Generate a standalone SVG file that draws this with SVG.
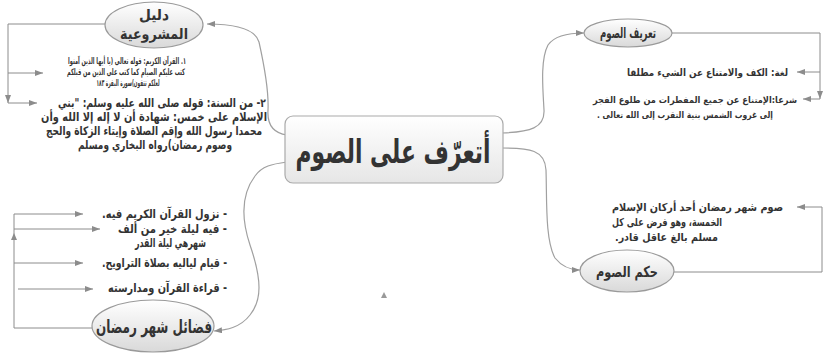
<svg xmlns="http://www.w3.org/2000/svg" width="824" height="362" viewBox="0 0 824 362">
<style>
.ar{font-family:'DejaVu Sans',sans-serif;font-weight:bold;fill:#333;direction:rtl;unicode-bidi:embed}
.m{text-anchor:middle}
.el{fill:url(#eg);stroke:#9a9a9a;stroke-width:1.2}
.cv{fill:none;stroke:#a0a0a0;stroke-width:1.2}
.cn{fill:none;stroke:#8c8c8c;stroke-width:1}
</style>
<defs>
<linearGradient id="eg" x1="0" y1="0" x2="0" y2="1">
<stop offset="0" stop-color="#ffffff"/><stop offset="1" stop-color="#d9d9d9"/>
</linearGradient>
<linearGradient id="bg" x1="0" y1="0" x2="0" y2="1">
<stop offset="0" stop-color="#ffffff"/><stop offset="1" stop-color="#e6e6e6"/>
</linearGradient>
<marker id="a" viewBox="0 0 8 6" refX="8" refY="3" markerWidth="8" markerHeight="6" markerUnits="userSpaceOnUse" orient="auto">
<path d="M0,0 L8,3 L0,6 z" fill="#8c8c8c"/>
</marker>
</defs>
<g id="connectors">
<path class="cv" d="M287,135 C273,133 267,125 268,110 C269,90 263,60 259,42 C255,28 232,24 207,24" marker-end="url(#a)"/>
<path class="cv" d="M287,162 C272,164 262,166 255,176 C243,192 240,215 250,245 C262,280 262,300 250,315 C240,328 226,330 214,331" marker-end="url(#a)"/>
<path class="cv" d="M502,133 C530,132 545,128 544,110 C543,90 540,60 548,45 C555,35 570,33 584,33" marker-end="url(#a)"/>
<path class="cv" d="M502,148 C530,148 545,150 546,170 C547,200 545,240 555,258 C563,268 572,270 580,270" marker-end="url(#a)"/>
<path class="cn" d="M105,24 H8 V103" marker-end="url(#a)"/>
<path class="cn" d="M8,73 H43" marker-end="url(#a)"/>
<path class="cn" d="M8,103 H37" marker-end="url(#a)"/>
<path class="cn" d="M92,328 H14 V214 H83" marker-end="url(#a)"/>
<path d="M14,233 L17,240 L11,240 z" fill="#8c8c8c"/>
<path class="cn" d="M14,229 H100" marker-end="url(#a)"/>
<path class="cn" d="M14,263 H83" marker-end="url(#a)"/>
<path class="cn" d="M18,289 H93" marker-end="url(#a)"/>
<path class="cn" d="M672,33 H820 V99" marker-end="url(#a)"/>
<path class="cn" d="M820,72 H797" marker-end="url(#a)"/>
<path class="cn" d="M820,99 H803" marker-end="url(#a)"/>
<path class="cn" d="M674,272 H822 V207 H797" marker-end="url(#a)"/>
</g>
<g id="center">
<rect x="285" y="116" width="218" height="67" rx="8" fill="url(#bg)" stroke="#aaaaaa" stroke-width="1.2"/>
<text class="ar m" x="393" y="163" font-size="33" fill="#3a3a3a" textLength="195" lengthAdjust="spacingAndGlyphs">أتعرّف على الصوم</text>
</g>
<g id="dalil">
<ellipse class="el" cx="154" cy="25" rx="49" ry="23"/>
<text class="ar m" x="154" y="20" font-size="15" textLength="30" lengthAdjust="spacingAndGlyphs">دليل</text>
<text class="ar m" x="154" y="39" font-size="15" textLength="68" lengthAdjust="spacingAndGlyphs">المشروعية</text>
</g>
<g id="dalil-text">
<text class="ar m" x="127" y="64" font-size="9" textLength="118" lengthAdjust="spacingAndGlyphs">١. القرآن الكريم: قوله تعالى (يا أيها الذين آمنوا</text>
<text class="ar m" x="126" y="75" font-size="9" textLength="118" lengthAdjust="spacingAndGlyphs">كتب عليكم الصيام كما كتب على الذين من قبلكم</text>
<text class="ar m" x="128" y="86" font-size="9" textLength="63" lengthAdjust="spacingAndGlyphs">لعلكم تتقون)سورة البقرة ١٨٣</text>
<text class="ar m" x="162" y="107" font-size="12" textLength="208" lengthAdjust="spacingAndGlyphs">٢- من السنة: قوله صلى الله عليه وسلم: "بني</text>
<text class="ar m" x="154" y="121" font-size="12" textLength="226" lengthAdjust="spacingAndGlyphs">الإسلام على خمس: شهادة أن لا إله إلا الله وأن</text>
<text class="ar m" x="154" y="135" font-size="12" textLength="216" lengthAdjust="spacingAndGlyphs">محمدا رسول الله وإقم الصلاة وإيتاء الزكاة والحج</text>
<text class="ar m" x="155" y="149" font-size="12" textLength="154" lengthAdjust="spacingAndGlyphs">وصوم رمضان)رواه البخاري ومسلم</text>
</g>
<g id="tarif">
<ellipse class="el" cx="628" cy="33" rx="44" ry="14"/>
<text class="ar m" x="628" y="38" font-size="15" textLength="56" lengthAdjust="spacingAndGlyphs">تعريف الصوم</text>
</g>
<g id="tarif-text">
<text class="ar" x="627" y="76" font-size="10" text-anchor="end" textLength="161" lengthAdjust="spacingAndGlyphs">لغة: الكف والامتناع عن الشيء مطلقا</text>
<text class="ar" x="593" y="103" font-size="8.8" text-anchor="end" textLength="204" lengthAdjust="spacingAndGlyphs">شرعا:الإمتناع عن جميع المفطرات من طلوع الفجر</text>
<text class="ar" x="597" y="118" font-size="8.8" text-anchor="end" textLength="176" lengthAdjust="spacingAndGlyphs">إلى غروب الشمس بنية التقرب إلى الله تعالى .</text>
</g>
<g id="hukm">
<ellipse class="el" cx="627" cy="271" rx="47" ry="21"/>
<text class="ar m" x="627" y="277" font-size="15" textLength="62" lengthAdjust="spacingAndGlyphs">حكم الصوم</text>
</g>
<g id="hukm-text">
<text class="ar" x="612" y="211" font-size="11" text-anchor="end" textLength="171" lengthAdjust="spacingAndGlyphs">صوم شهر رمضان أحد أركان الإسلام</text>
<text class="ar" x="612" y="226" font-size="11" text-anchor="end" textLength="110" lengthAdjust="spacingAndGlyphs">الخمسة، وهو فرض على كل</text>
<text class="ar" x="615" y="241" font-size="11" text-anchor="end" textLength="103" lengthAdjust="spacingAndGlyphs">مسلم بالغ عاقل قادر.</text>
</g>
<g id="fadail">
<ellipse class="el" cx="153" cy="326" rx="61" ry="26"/>
<text class="ar m" x="154" y="333" font-size="18" textLength="116" lengthAdjust="spacingAndGlyphs">فضائل شهر رمضان</text>
</g>
<g id="fadail-text">
<text class="ar" x="227" y="218" font-size="12" text-anchor="start" textLength="125" lengthAdjust="spacingAndGlyphs">- نزول القرآن الكريم فيه.</text>
<text class="ar" x="227" y="233" font-size="12" text-anchor="start" textLength="109" lengthAdjust="spacingAndGlyphs">- فيه ليلة خير من ألف</text>
<text class="ar" x="206" y="247" font-size="12" text-anchor="start" textLength="71" lengthAdjust="spacingAndGlyphs">شهرهي ليلة القدر</text>
<text class="ar" x="227" y="267" font-size="12" text-anchor="start" textLength="125" lengthAdjust="spacingAndGlyphs">- قيام لياليه بصلاة التراويح.</text>
<text class="ar" x="227" y="292" font-size="12" text-anchor="start" textLength="119" lengthAdjust="spacingAndGlyphs">- قراءة القرآن ومدارسته</text>
</g>
<path d="M384,292 L387,298 L381,298 z" fill="#999"/>
</svg>
